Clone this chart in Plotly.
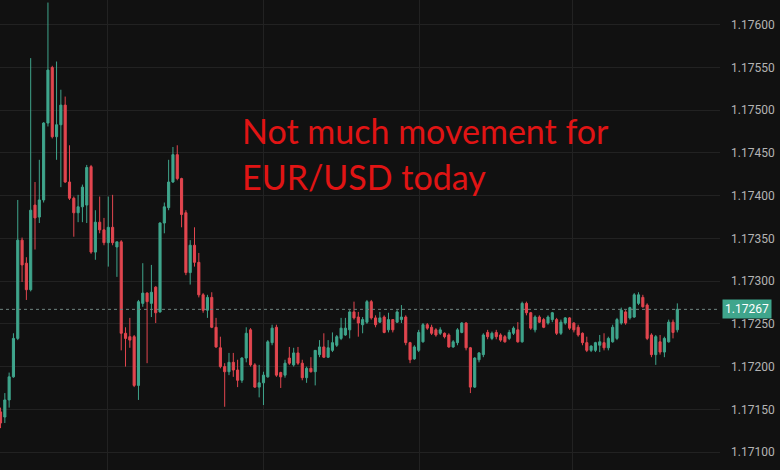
"""EUR/USD 5-minute candles, dark chart with a note."""
import plotly.graph_objects as go

BG = "#111111"
GRID = "#222222"
UP = "#3fa58c"
DOWN = "#e2464f"

open_prices = [
    1.17147, 1.17141, 1.17161, 1.17188, 1.17233, 1.17348, 1.17321, 1.17290, 1.17389, 1.17375,
    1.17395, 1.17485, 1.17550, 1.17469, 1.17483, 1.17506, 1.17416, 1.17397, 1.17380, 1.17387,
    1.17389, 1.17434, 1.17334, 1.17369, 1.17360, 1.17345, 1.17363, 1.17340, 1.17346, 1.17239,
    1.17235, 1.17235, 1.17178, 1.17274, 1.17286, 1.17274, 1.17293, 1.17264, 1.17368, 1.17386,
    1.17416, 1.17448, 1.17420, 1.17380, 1.17310, 1.17342, 1.17322, 1.17284, 1.17266, 1.17281,
    1.17246, 1.17222, 1.17200, 1.17194, 1.17205, 1.17196, 1.17184, 1.17210, 1.17243, 1.17202,
    1.17176, 1.17181, 1.17188, 1.17228, 1.17246, 1.17193, 1.17190, 1.17210, 1.17202, 1.17216,
    1.17204, 1.17187, 1.17198, 1.17194, 1.17214, 1.17223, 1.17211, 1.17219, 1.17225, 1.17233,
    1.17237, 1.17243, 1.17264, 1.17258, 1.17249, 1.17252, 1.17276, 1.17257, 1.17252, 1.17258,
    1.17243, 1.17255, 1.17252, 1.17255, 1.17258, 1.17228, 1.17209, 1.17219, 1.17229, 1.17249,
    1.17246, 1.17243, 1.17239, 1.17239, 1.17237, 1.17223, 1.17228, 1.17240, 1.17251, 1.17222,
    1.17176, 1.17208, 1.17214, 1.17240, 1.17233, 1.17240, 1.17237, 1.17235, 1.17233, 1.17239,
    1.17243, 1.17229, 1.17274, 1.17263, 1.17243, 1.17258, 1.17255, 1.17251, 1.17255, 1.17255,
    1.17239, 1.17251, 1.17257, 1.17251, 1.17246, 1.17239, 1.17228, 1.17219, 1.17219, 1.17225,
    1.17228, 1.17222, 1.17229, 1.17233, 1.17251, 1.17264, 1.17257, 1.17258, 1.17274, 1.17281,
    1.17272, 1.17237, 1.17214, 1.17229, 1.17217, 1.17229, 1.17252, 1.17243,
]
high_prices = [
    1.17152, 1.17169, 1.17193, 1.17239, 1.17395, 1.17351, 1.17328, 1.17561, 1.17416, 1.17442,
    1.17486, 1.17626, 1.17552, 1.17557, 1.17524, 1.17516, 1.17459, 1.17399, 1.17401, 1.17413,
    1.17436, 1.17436, 1.17383, 1.17399, 1.17374, 1.17399, 1.17401, 1.17346, 1.17348, 1.17246,
    1.17257, 1.17237, 1.17278, 1.17321, 1.17287, 1.17319, 1.17294, 1.17369, 1.17392, 1.17442,
    1.17457, 1.17459, 1.17421, 1.17383, 1.17348, 1.17363, 1.17333, 1.17286, 1.17284, 1.17287,
    1.17257, 1.17235, 1.17204, 1.17216, 1.17216, 1.17208, 1.17211, 1.17246, 1.17245, 1.17204,
    1.17202, 1.17194, 1.17231, 1.17249, 1.17249, 1.17194, 1.17208, 1.17223, 1.17222, 1.17223,
    1.17208, 1.17200, 1.17211, 1.17219, 1.17231, 1.17239, 1.17231, 1.17240, 1.17237, 1.17257,
    1.17257, 1.17266, 1.17276, 1.17264, 1.17258, 1.17278, 1.17278, 1.17260, 1.17264, 1.17260,
    1.17263, 1.17255, 1.17266, 1.17272, 1.17260, 1.17229, 1.17225, 1.17243, 1.17251, 1.17251,
    1.17249, 1.17245, 1.17246, 1.17240, 1.17239, 1.17231, 1.17245, 1.17252, 1.17252, 1.17223,
    1.17211, 1.17217, 1.17239, 1.17243, 1.17241, 1.17243, 1.17239, 1.17237, 1.17243, 1.17247,
    1.17252, 1.17276, 1.17276, 1.17264, 1.17260, 1.17260, 1.17257, 1.17260, 1.17264, 1.17257,
    1.17255, 1.17258, 1.17258, 1.17252, 1.17249, 1.17240, 1.17235, 1.17225, 1.17229, 1.17237,
    1.17239, 1.17235, 1.17249, 1.17257, 1.17269, 1.17266, 1.17270, 1.17286, 1.17287, 1.17284,
    1.17274, 1.17239, 1.17237, 1.17237, 1.17235, 1.17255, 1.17255, 1.17274,
]
low_prices = [
    1.17128, 1.17134, 1.17152, 1.17187, 1.17231, 1.17299, 1.17278, 1.17288, 1.17337, 1.17368,
    1.17392, 1.17481, 1.17467, 1.17442, 1.17410, 1.17415, 1.17395, 1.17352, 1.17369, 1.17369,
    1.17368, 1.17332, 1.17325, 1.17356, 1.17342, 1.17317, 1.17342, 1.17305, 1.17219, 1.17200,
    1.17222, 1.17176, 1.17161, 1.17270, 1.17204, 1.17258, 1.17251, 1.17263, 1.17356, 1.17383,
    1.17415, 1.17418, 1.17363, 1.17307, 1.17296, 1.17317, 1.17281, 1.17263, 1.17257, 1.17245,
    1.17222, 1.17198, 1.17153, 1.17190, 1.17188, 1.17176, 1.17181, 1.17205, 1.17200, 1.17175,
    1.17164, 1.17155, 1.17187, 1.17225, 1.17188, 1.17175, 1.17187, 1.17202, 1.17200, 1.17202,
    1.17184, 1.17181, 1.17193, 1.17178, 1.17211, 1.17210, 1.17210, 1.17217, 1.17223, 1.17231,
    1.17236, 1.17233, 1.17255, 1.17235, 1.17239, 1.17250, 1.17255, 1.17246, 1.17251, 1.17239,
    1.17240, 1.17240, 1.17251, 1.17251, 1.17225, 1.17204, 1.17208, 1.17217, 1.17228, 1.17243,
    1.17237, 1.17235, 1.17237, 1.17233, 1.17222, 1.17222, 1.17225, 1.17239, 1.17219, 1.17169,
    1.17175, 1.17205, 1.17211, 1.17232, 1.17231, 1.17232, 1.17229, 1.17228, 1.17231, 1.17237,
    1.17228, 1.17228, 1.17260, 1.17243, 1.17240, 1.17251, 1.17245, 1.17249, 1.17252, 1.17237,
    1.17237, 1.17249, 1.17243, 1.17240, 1.17235, 1.17225, 1.17217, 1.17217, 1.17217, 1.17217,
    1.17219, 1.17219, 1.17228, 1.17231, 1.17249, 1.17249, 1.17255, 1.17257, 1.17272, 1.17269,
    1.17231, 1.17211, 1.17202, 1.17214, 1.17211, 1.17228, 1.17233, 1.17240,
]
close_prices = [
    1.17134, 1.17161, 1.17188, 1.17233, 1.17348, 1.17319, 1.17290, 1.17383, 1.17374, 1.17395,
    1.17485, 1.17547, 1.17469, 1.17483, 1.17506, 1.17416, 1.17397, 1.17380, 1.17387, 1.17410,
    1.17433, 1.17334, 1.17369, 1.17360, 1.17345, 1.17363, 1.17345, 1.17346, 1.17239, 1.17233,
    1.17231, 1.17178, 1.17276, 1.17286, 1.17276, 1.17287, 1.17263, 1.17368, 1.17387, 1.17416,
    1.17448, 1.17420, 1.17378, 1.17310, 1.17342, 1.17322, 1.17284, 1.17266, 1.17281, 1.17246,
    1.17223, 1.17200, 1.17194, 1.17205, 1.17196, 1.17184, 1.17210, 1.17239, 1.17202, 1.17176,
    1.17181, 1.17190, 1.17229, 1.17245, 1.17190, 1.17188, 1.17204, 1.17204, 1.17216, 1.17204,
    1.17187, 1.17198, 1.17194, 1.17219, 1.17223, 1.17211, 1.17222, 1.17228, 1.17235, 1.17245,
    1.17245, 1.17264, 1.17257, 1.17251, 1.17255, 1.17276, 1.17257, 1.17249, 1.17257, 1.17240,
    1.17255, 1.17243, 1.17264, 1.17258, 1.17228, 1.17208, 1.17223, 1.17240, 1.17249, 1.17245,
    1.17239, 1.17237, 1.17243, 1.17235, 1.17223, 1.17229, 1.17243, 1.17251, 1.17222, 1.17176,
    1.17210, 1.17216, 1.17237, 1.17235, 1.17239, 1.17235, 1.17231, 1.17229, 1.17240, 1.17245,
    1.17229, 1.17274, 1.17263, 1.17245, 1.17258, 1.17252, 1.17246, 1.17258, 1.17263, 1.17239,
    1.17252, 1.17257, 1.17245, 1.17243, 1.17237, 1.17228, 1.17219, 1.17224, 1.17228, 1.17229,
    1.17222, 1.17233, 1.17246, 1.17255, 1.17266, 1.17251, 1.17269, 1.17284, 1.17284, 1.17270,
    1.17233, 1.17214, 1.17235, 1.17217, 1.17233, 1.17252, 1.17240, 1.17267,
]
bars = list(range(len(close_prices)))
last_price = close_prices[-1]
price_ticks = [1.171, 1.1715, 1.172, 1.1725, 1.173, 1.1735, 1.174, 1.1745, 1.175, 1.1755, 1.176]
note_lines = ["Not much movement for", "EUR/USD today"]

fig = go.Figure(
    go.Candlestick(
        x=bars,
        open=open_prices,
        high=high_prices,
        low=low_prices,
        close=close_prices,
        increasing=dict(line=dict(color=UP, width=1), fillcolor=UP),
        decreasing=dict(line=dict(color=DOWN, width=1), fillcolor=DOWN),
        whiskerwidth=0,
        hoverinfo="skip",
    )
)

# dotted last-price line + price tag on the axis
fig.add_hline(y=last_price, line=dict(color="#6f8580", width=1, dash="dot"))
fig.add_annotation(
    x=1, xref="paper", xanchor="left", xshift=2,
    y=last_price, yref="y", yanchor="middle",
    text=f"{last_price:.5f}", showarrow=False,
    bgcolor=UP, borderpad=2,
    font=dict(family="Roboto", size=12, color="#ffffff"),
)

for line, y in zip(note_lines, [1.17476, 1.17423]):
    fig.add_annotation(
        x=0.333, xref="paper", xanchor="left",
        y=y, yref="y", yanchor="middle",
        text=line, showarrow=False,
        font=dict(family="Lato", size=34, color="#e01414"),
    )

fig.update_layout(
    width=780,
    height=470,
    margin=dict(l=0, r=60, t=0, b=0),
    paper_bgcolor=BG,
    plot_bgcolor=BG,
    showlegend=False,
    xaxis=dict(
        range=[-0.12, 166.9],
        rangeslider=dict(visible=False),
        tickvals=[24.7, 60.9, 97.3, 132.6],
        showticklabels=False,
        showgrid=True,
        gridcolor=GRID,
        zeroline=False,
        showline=False,
    ),
    yaxis=dict(
        side="right",
        range=[1.17079, 1.17629],
        tickvals=price_ticks,
        tickformat=".5f",
        showgrid=True,
        gridcolor=GRID,
        zeroline=False,
        showline=False,
        ticklabelstandoff=10,
        tickfont=dict(family="Roboto", size=12, color="#b4b4b4"),
    ),
)

# drop the page's default body margin so the chart fills the window
fig.write_html(
    "out.html",
    config={"displayModeBar": False},
    post_script="document.body.style.margin='0';",
)
